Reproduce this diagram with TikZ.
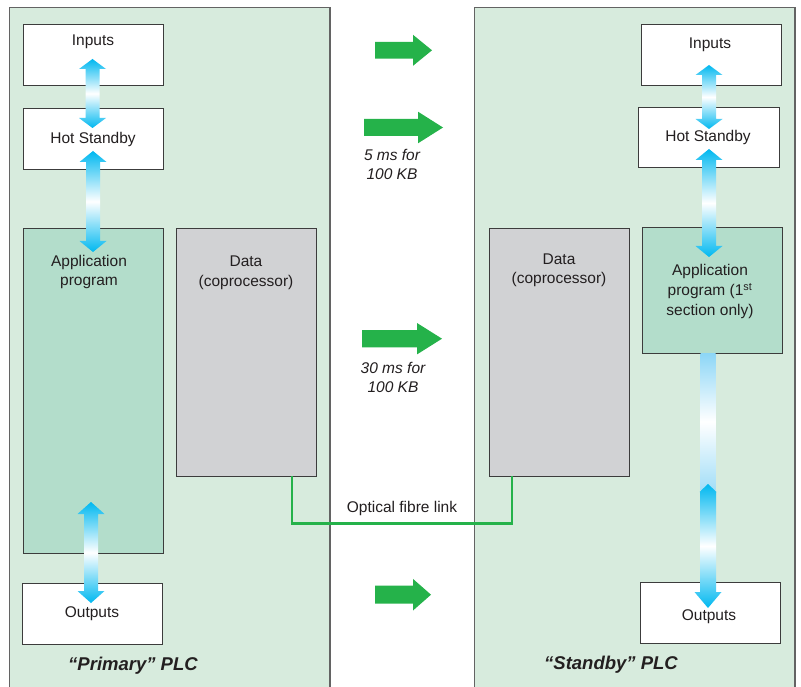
\documentclass[tikz,border=0pt]{standalone}
\usepackage{fontspec}
\setmainfont{Liberation Sans}
\usetikzlibrary{calc}
\definecolor{panelG}{HTML}{D7EBDD}
\definecolor{appG}{HTML}{B3DDCB}
\definecolor{dataG}{HTML}{D1D2D4}
\definecolor{grnA}{HTML}{25B24A}
\definecolor{cyA}{HTML}{00B8F0}
\definecolor{cyL}{HTML}{8CD6F6}
\definecolor{txt}{HTML}{231F20}
\definecolor{edge}{HTML}{3C3C3C}
\tikzset{
  panel/.style={fill=panelG, draw=edge!80, line width=1.3pt},
  box/.style={draw=edge, line width=0.9pt, fill=white, minimum width=140, minimum height=61, inner sep=0pt, outer sep=0pt},
  appbox/.style={box, fill=appG},
  databox/.style={box, fill=dataG},
  lbl/.style={text=txt, font=\fontsize{15.5}{19.5}\selectfont, align=center, inner sep=0pt},
  ilbl/.style={lbl, font=\fontsize{15.5}{19}\selectfont\itshape},
  plc/.style={text=txt, font=\fontsize{18.5}{22}\selectfont\bfseries\itshape, inner sep=0pt},
  fibre/.style={draw=grnA, line width=2.6pt},
}
\newcommand\dblarr[4][13.5]{%
  \shade[top color=cyA, bottom color=cyA, middle color=white]
    let \p1=(#2), \p2=(#3) in
    (\x1,\y1) -- ({\x1+#1pt},{\y1-#4pt}) -- ({\x1+7pt},{\y1-#4pt}) -- ({\x1+7pt},{\y2+#4pt})
    -- ({\x1+#1pt},{\y2+#4pt}) -- (\x1,\y2) -- ({\x1-#1pt},{\y2+#4pt}) -- ({\x1-7pt},{\y2+#4pt})
    -- ({\x1-7pt},{\y1-#4pt}) -- ({\x1-#1pt},{\y1-#4pt}) -- cycle;}
\newcommand\garr[7]{% x0, xhead, x1, yc, shaft half, head half, name
  \fill[grnA] (#1,{#4-#5}) -- (#2,{#4-#5}) -- (#2,{#4-#6}) -- (#3,#4) -- (#2,{#4+#6})
    -- (#2,{#4+#5}) -- (#1,{#4+#5}) -- cycle;
  \coordinate (#7) at (#3,#4);}
\begin{document}
\begin{tikzpicture}[x=1pt, y=-1pt]
\useasboundingbox (0,0) rectangle (801,687);
\clip (0,0) rectangle (801,687);
\fill[white] (0,0) rectangle (801,687);
% panels
\draw[panel] (9.5,7.5) rectangle (330,700);
\draw[panel] (474.5,7.5) rectangle (795,700);
% left boxes
\node[box] (inL) at (93,54.5) {};
\node[box] (hsL) at (93,138.5) {};
\node[appbox, minimum height=325] (apL) at (93,390.5) {};
\node[box] (outL) at (92,613.5) {};
\node[databox, minimum height=248] (dataL) at (246,352) {};
% right boxes
\node[databox, minimum height=248] (dataR) at (559,352) {};
\node[box] (inR) at (711,54.5) {};
\node[box, minimum width=141, minimum height=60] (hsR) at (708.5,137) {};
\node[appbox, minimum height=126] (apR) at (712,290) {};
\node[box] (outR) at (710,612.5) {};
% labels in boxes
\node[lbl] (tInL) at (93,42) {Inputs};
\node[lbl] (tHsL) at (93,139.5) {Hot Standby};
\node[lbl] (tApL) at (89,272) {Application\\program};
\node[lbl] (tOutL) at (92,613.5) {Outputs};
\node[lbl] (tDaL) at (246,273) {Data\\(coprocessor)};
\node[lbl] (tDaR) at (559,270.5) {Data\\(coprocessor)};
\node[lbl] (tInR) at (710,44.5) {Inputs};
\node[lbl] (tHsR) at (708,137.5) {Hot Standby};
\node[lbl, font=\fontsize{15.5}{20}\selectfont] (tApR) at (710,291.5) {Application\\program (1\textsuperscript{st}\\section only)};
\node[lbl] (tOutR) at (709,616.5) {Outputs};
% blue arrows
\coordinate (L1t) at (92.5,59);   \coordinate (L1b) at (92.5,128);
\coordinate (L2t) at (93,151);    \coordinate (L2b) at (93,252);
\coordinate (L3t) at (91,502);    \coordinate (L3b) at (91,603);
\coordinate (R1t) at (709,65);    \coordinate (R1b) at (709,129);
\coordinate (R2t) at (709,149);   \coordinate (R2b) at (709,257);
\coordinate (R3t) at (708,484);   \coordinate (R3b) at (708,608);
\dblarr{L1t}{L1b}{10}
\dblarr{L2t}{L2b}{11}
\dblarr{L3t}{L3b}{12}
\dblarr{R1t}{R1b}{10}
\dblarr{R2t}{R2b}{11}
% faded shaft below the right application box
\shade[top color=cyL, bottom color=cyL!80, middle color=white]
  ($(apR.south -| R3t)+(-7.5,0)$) rectangle ($(R3t)+(7.5,6)$);
\shade[top color=cyA, bottom color=cyA, middle color=white]
  let \p1=(R3t), \p2=(R3b) in
  (\x1,\y1) -- ({\x1+8.5pt},{\y1-8pt}) -- ({\x1+8pt},{\y1-8pt}) -- ({\x1+8pt},{\y2+16pt})
  -- ({\x1+13.5pt},{\y2+16pt}) -- (\x1,\y2) -- ({\x1-13.5pt},{\y2+16pt}) -- ({\x1-8pt},{\y2+16pt})
  -- ({\x1-8pt},{\y1-8pt}) -- ({\x1-8.5pt},{\y1-8pt}) -- cycle;
% green transfer arrows
\garr{375}{413}{432}{50.3}{8.3}{15.5}{g1}
\garr{364}{418}{443}{127.5}{8.5}{15.8}{g2}
\garr{362}{417}{442}{338.7}{8.6}{15.7}{g3}
\garr{375}{413}{431}{594.7}{9}{15.8}{g4}
\node[ilbl] (t5ms) at (392,164.5) {5 ms for\\100 KB};
\node[ilbl] (t30ms) at (393,377) {30 ms for\\100 KB};
% optical fibre link
\coordinate (fL) at (292,523.5);
\coordinate (fR) at (512,523.5);
\draw[fibre] (fL |- dataL.south) -- (fL) -- (fR) -- (fR |- dataR.south);
\node[lbl] (tFibre) at (402,508) {Optical fibre link};
% PLC titles
\node[plc] (tPrim) at (133,666) {“Primary” PLC};
\node[plc] (tStby) at (611,665) {“Standby” PLC};
\end{tikzpicture}
\end{document}
